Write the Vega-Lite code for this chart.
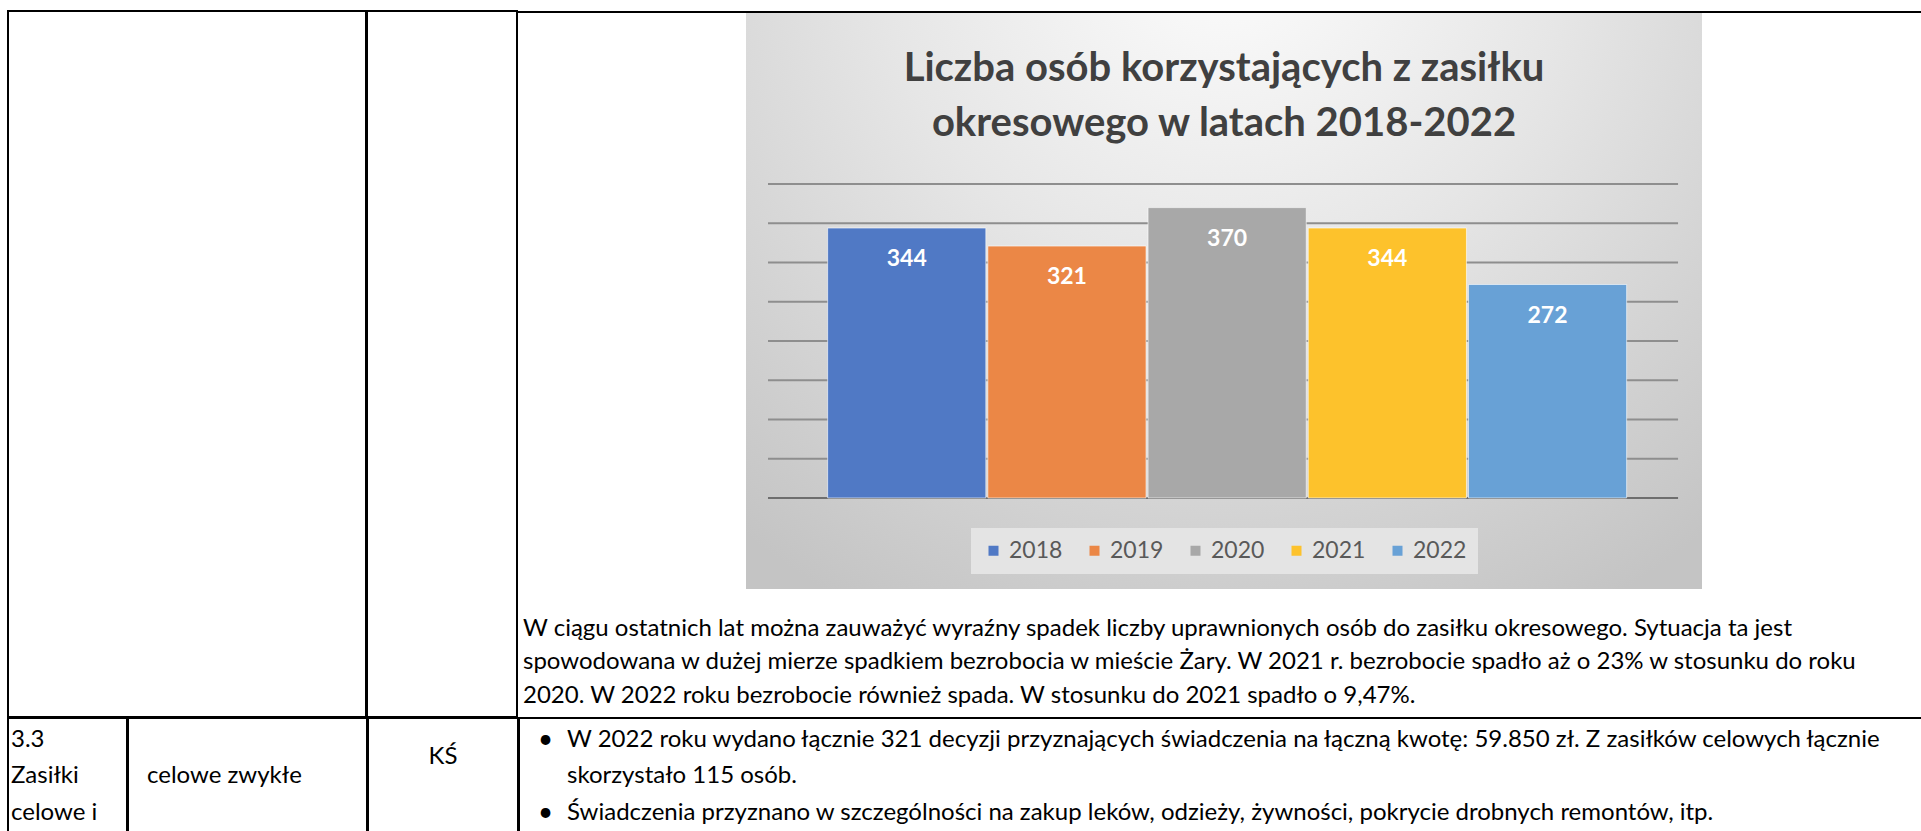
{
  "$schema": "https://vega.github.io/schema/vega-lite/v6.json",
  "background": "white",
  "padding": {"left": 7, "top": 10, "right": -4, "bottom": -3},
  "spacing": -2,
  "resolve": {"scale": {"color": "independent"}, "legend": {"color": "independent"}},
  "config": {
    "view": {"stroke": "#000000", "strokeWidth": 2},
    "font": "Lato",
    "text": {"font": "Lato", "fontSize": 24, "fill": "#000000"},
    "legend": {"layout": {"bottom": {"anchor": "middle"}}}
  },
  "vconcat": [
    {
      "hconcat": [
        {
          "width": 358, "height": 706,
          "data": {"values": [{"kolumna": "pusta", "wiersz": 1}]},
          "mark": {"type": "text", "fontSize": 0},
          "encoding": {
            "x": {"field": "kolumna", "type": "nominal", "scale": {"type": "point"}, "axis": null},
            "y": {"field": "wiersz", "type": "ordinal", "scale": {"type": "point"}, "axis": null},
            "text": {"value": ""}
          }
        },
        {
          "width": 150, "height": 706,
          "data": {"values": [{"kolumna": "pusta", "wiersz": 1}]},
          "mark": {"type": "text", "fontSize": 0},
          "encoding": {
            "x": {"field": "kolumna", "type": "nominal", "scale": {"type": "point"}, "axis": null},
            "y": {"field": "wiersz", "type": "ordinal", "scale": {"type": "point"}, "axis": null},
            "text": {"value": ""}
          }
        },
        {
          "vconcat": [
            {
              "width": 1407, "height": 2,
              "view": {"stroke": null, "fill": "#000000"},
              "data": {"values": [{"kolumna": "pusta", "wiersz": 1}]},
              "mark": {"type": "text", "fontSize": 0},
              "encoding": {
                "x": {"field": "kolumna", "type": "nominal", "scale": {"type": "point"}, "axis": null},
                "y": {"field": "wiersz", "type": "ordinal", "scale": {"type": "point"}, "axis": null},
                "text": {"value": ""}
              }
            },
            {
              "hconcat": [
                {"width": 228, "height": 576, "view": {"stroke": null}, "data": {"values": []}, "mark": "rect"},
                {
                  "width": 956,
                  "height": 576,
                  "view": {
                    "stroke": null,
                    "fill": {
                      "gradient": "radial",
                      "x1": 0.5, "y1": 0.12, "r1": 0,
                      "x2": 0.5, "y2": 0.12, "r2": 0.8,
                      "stops": [
                        {"offset": 0, "color": "#fdfdfd"},
                        {"offset": 0.45, "color": "#e6e6e6"},
                        {"offset": 1, "color": "#c4c4c4"}
                      ]
                    }
                  },
                  "data": {"values": [
                    {"rok": "2018", "liczba": 344},
                    {"rok": "2019", "liczba": 321},
                    {"rok": "2020", "liczba": 370},
                    {"rok": "2021", "liczba": 344},
                    {"rok": "2022", "liczba": 272}
                  ]},
                  "resolve": {"scale": {"y": "independent"}},
                  "layer": [
                    {
                      "data": {"values": [
                        {"wartosc": 0}, {"wartosc": 50}, {"wartosc": 100}, {"wartosc": 150}, {"wartosc": 200},
                        {"wartosc": 250}, {"wartosc": 300}, {"wartosc": 350}, {"wartosc": 400}
                      ]},
                      "mark": {"type": "rule", "strokeWidth": 2},
                      "encoding": {
                        "x": {"datum": "2018", "type": "nominal", "bandPosition": -0.377,
                              "scale": {"domain": ["2018", "2019", "2020", "2021", "2022"], "paddingInner": 0.0125, "paddingOuter": 0.49, "align": 0.52},
                              "axis": null},
                        "x2": {"datum": "2022", "bandPosition": 1.325},
                        "y": {"field": "wartosc", "type": "quantitative", "scale": {"domain": [-116, 618], "nice": false, "zero": false}, "axis": null},
                        "color": {"condition": {"test": "datum.wartosc === 0", "value": "#6e6e6e"}, "value": "#8e8e8e"}
                      }
                    },
                    {
                      "mark": {"type": "bar", "stroke": "#ffffff", "strokeWidth": 1, "strokeOpacity": 0.6},
                      "encoding": {
                        "x": {"field": "rok", "type": "nominal",
                              "scale": {"domain": ["2018", "2019", "2020", "2021", "2022"], "paddingInner": 0.0125, "paddingOuter": 0.49, "align": 0.52},
                              "axis": null},
                        "y": {"field": "liczba", "type": "quantitative", "stack": null, "scale": {"domain": [-116, 618], "nice": false, "zero": false}, "axis": null},
                        "color": {
                          "field": "rok", "type": "nominal",
                          "scale": {"domain": ["2018", "2019", "2020", "2021", "2022"], "range": ["#5079c5", "#eb8746", "#a8a8a8", "#fdc22c", "#68a1d6"]},
                          "legend": {
                            "title": null,
                            "orient": "bottom",
                            "direction": "horizontal",
                            "offset": -61,
                            "symbolType": "square",
                            "symbolSize": 100,
                            "symbolStrokeWidth": 0,
                            "symbolOpacity": 1,
                            "labelFont": "Lato",
                            "labelFontSize": 23,
                            "labelColor": "#595959",
                            "labelOffset": 4,
                            "columnPadding": 20,
                            "fillColor": "#e4e4e4",
                            "padding": 11
                          }
                        }
                      }
                    },
                    {
                      "mark": {"type": "text", "fill": "#ffffff", "fontWeight": "bold", "fontSize": 23, "font": "Lato", "baseline": "middle", "align": "center", "dy": 31},
                      "encoding": {
                        "x": {"field": "rok", "type": "nominal",
                              "scale": {"domain": ["2018", "2019", "2020", "2021", "2022"], "paddingInner": 0.0125, "paddingOuter": 0.49, "align": 0.52},
                              "axis": null},
                        "y": {"field": "liczba", "type": "quantitative", "scale": {"domain": [-116, 618], "nice": false, "zero": false}, "axis": null},
                        "text": {"field": "liczba", "type": "quantitative"}
                      }
                    },
                    {
                      "data": {"values": [
                        {"wiersz": 1, "tekst": "Liczba osób korzystających z zasiłku"},
                        {"wiersz": 2, "tekst": "okresowego w latach 2018-2022"}
                      ]},
                      "mark": {"type": "text", "font": "Lato", "fontSize": 40, "fontWeight": "bold", "fill": "#404040", "align": "center", "baseline": "middle"},
                      "encoding": {
                        "y": {"field": "wiersz", "type": "quantitative", "scale": {"domain": [-0.018, 10.455], "reverse": true, "nice": false, "zero": false}, "axis": null},
                        "text": {"field": "tekst"}
                      }
                    }
                  ]
                },
                {"width": 223, "height": 576, "view": {"stroke": null}, "data": {"values": []}, "mark": "rect"}
              ],
              "spacing": 0,
              "resolve": {"scale": {"color": "independent"}, "legend": {"color": "independent"}}
            },
            {
              "width": 1407,
              "height": 128,
              "view": {"stroke": null},
              "data": {"values": [
                {"kolumna": "opis", "wiersz": 1, "tekst": "W ciągu ostatnich lat można zauważyć wyraźny spadek liczby uprawnionych osób do zasiłku okresowego. Sytuacja ta jest"},
                {"kolumna": "opis", "wiersz": 2, "tekst": "spowodowana w dużej mierze spadkiem bezrobocia w mieście Żary. W 2021 r. bezrobocie spadło aż o 23% w stosunku do roku"},
                {"kolumna": "opis", "wiersz": 3, "tekst": "2020. W 2022 roku bezrobocie również spada. W stosunku do 2021 spadło o 9,47%."}
              ]},
              "mark": {"type": "text", "align": "left", "baseline": "middle", "dx": 5},
              "encoding": {
                "x": {"field": "kolumna", "type": "nominal", "scale": {"type": "point", "padding": 0, "align": 0}, "axis": null},
                "y": {"field": "wiersz", "type": "ordinal", "scale": {"type": "point", "padding": 0.91, "align": 0.648}, "axis": null},
                "text": {"field": "tekst"}
              }
            }
          ],
          "spacing": 0,
          "resolve": {"scale": {"color": "independent"}, "legend": {"color": "independent"}}
        }
      ],
      "spacing": -2,
      "resolve": {"scale": {"color": "independent"}, "legend": {"color": "independent"}}
    },
    {
      "hconcat": [
        {
          "width": 119,
          "height": 116,
          "data": {"values": [
            {"kolumna": "lp", "wiersz": 1, "tekst": "3.3"},
            {"kolumna": "lp", "wiersz": 2, "tekst": "Zasiłki"},
            {"kolumna": "lp", "wiersz": 3, "tekst": "celowe i"}
          ]},
          "mark": {"type": "text", "align": "left", "baseline": "middle", "dx": 3},
          "encoding": {
            "x": {"field": "kolumna", "type": "nominal", "scale": {"type": "point", "padding": 0, "align": 0}, "axis": null},
            "y": {"field": "wiersz", "type": "ordinal", "scale": {"domain": [1, 2, 3], "type": "point", "padding": 0.593, "align": 0.505}, "axis": null},
            "text": {"field": "tekst"}
          }
        },
        {
          "width": 239,
          "height": 116,
          "data": {"values": [
            {"kolumna": "rodzaj", "wiersz": 2, "tekst": "celowe zwykłe"}
          ]},
          "mark": {"type": "text", "align": "left", "baseline": "middle", "dx": 19},
          "encoding": {
            "x": {"field": "kolumna", "type": "nominal", "scale": {"type": "point", "padding": 0, "align": 0}, "axis": null},
            "y": {"field": "wiersz", "type": "ordinal", "scale": {"domain": [1, 2, 3], "type": "point", "padding": 0.593, "align": 0.505}, "axis": null},
            "text": {"field": "tekst"}
          }
        },
        {
          "width": 150,
          "height": 116,
          "data": {"values": [{"kolumna": "realizator", "wiersz": 1, "tekst": "KŚ"}]},
          "mark": {"type": "text", "align": "center", "baseline": "middle"},
          "encoding": {
            "x": {"field": "kolumna", "type": "nominal", "scale": {"type": "point", "padding": 0, "align": 0.5}, "axis": null},
            "y": {"field": "wiersz", "type": "ordinal", "scale": {"domain": [1, 2], "type": "point", "padding": 0.5, "align": 0.672}, "axis": null},
            "text": {"field": "tekst"}
          }
        },
        {
          "width": 1408,
          "height": 116,
          "layer": [
            {
              "data": {"values": [
                {"kolumna": "opis", "wiersz": 1, "znak": "•"},
                {"kolumna": "opis", "wiersz": 3, "znak": "•"}
              ]},
              "mark": {"type": "text", "align": "left", "baseline": "middle", "dx": 19, "fontSize": 26},
              "encoding": {
                "x": {"field": "kolumna", "type": "nominal", "scale": {"type": "point", "padding": 0, "align": 0}, "axis": null},
                "y": {"field": "wiersz", "type": "ordinal", "scale": {"domain": [1, 2, 3], "type": "point", "padding": 0.593, "align": 0.505}, "axis": null},
                "text": {"field": "znak"}
              }
            },
            {
              "data": {"values": [
                {"kolumna": "opis", "wiersz": 1, "tekst": "W 2022 roku  wydano łącznie 321 decyzji przyznających świadczenia na łączną kwotę: 59.850 zł. Z zasiłków celowych łącznie"},
                {"kolumna": "opis", "wiersz": 2, "tekst": "skorzystało 115 osób."},
                {"kolumna": "opis", "wiersz": 3, "tekst": "Świadczenia przyznano w szczególności na zakup leków, odzieży, żywności, pokrycie drobnych remontów, itp."}
              ]},
              "mark": {"type": "text", "align": "left", "baseline": "middle", "dx": 48},
              "encoding": {
                "x": {"field": "kolumna", "type": "nominal", "scale": {"type": "point", "padding": 0, "align": 0}, "axis": null},
                "y": {"field": "wiersz", "type": "ordinal", "scale": {"domain": [1, 2, 3], "type": "point", "padding": 0.593, "align": 0.505}, "axis": null},
                "text": {"field": "tekst"}
              }
            }
          ]
        }
      ],
      "spacing": -2
    }
  ]
}
